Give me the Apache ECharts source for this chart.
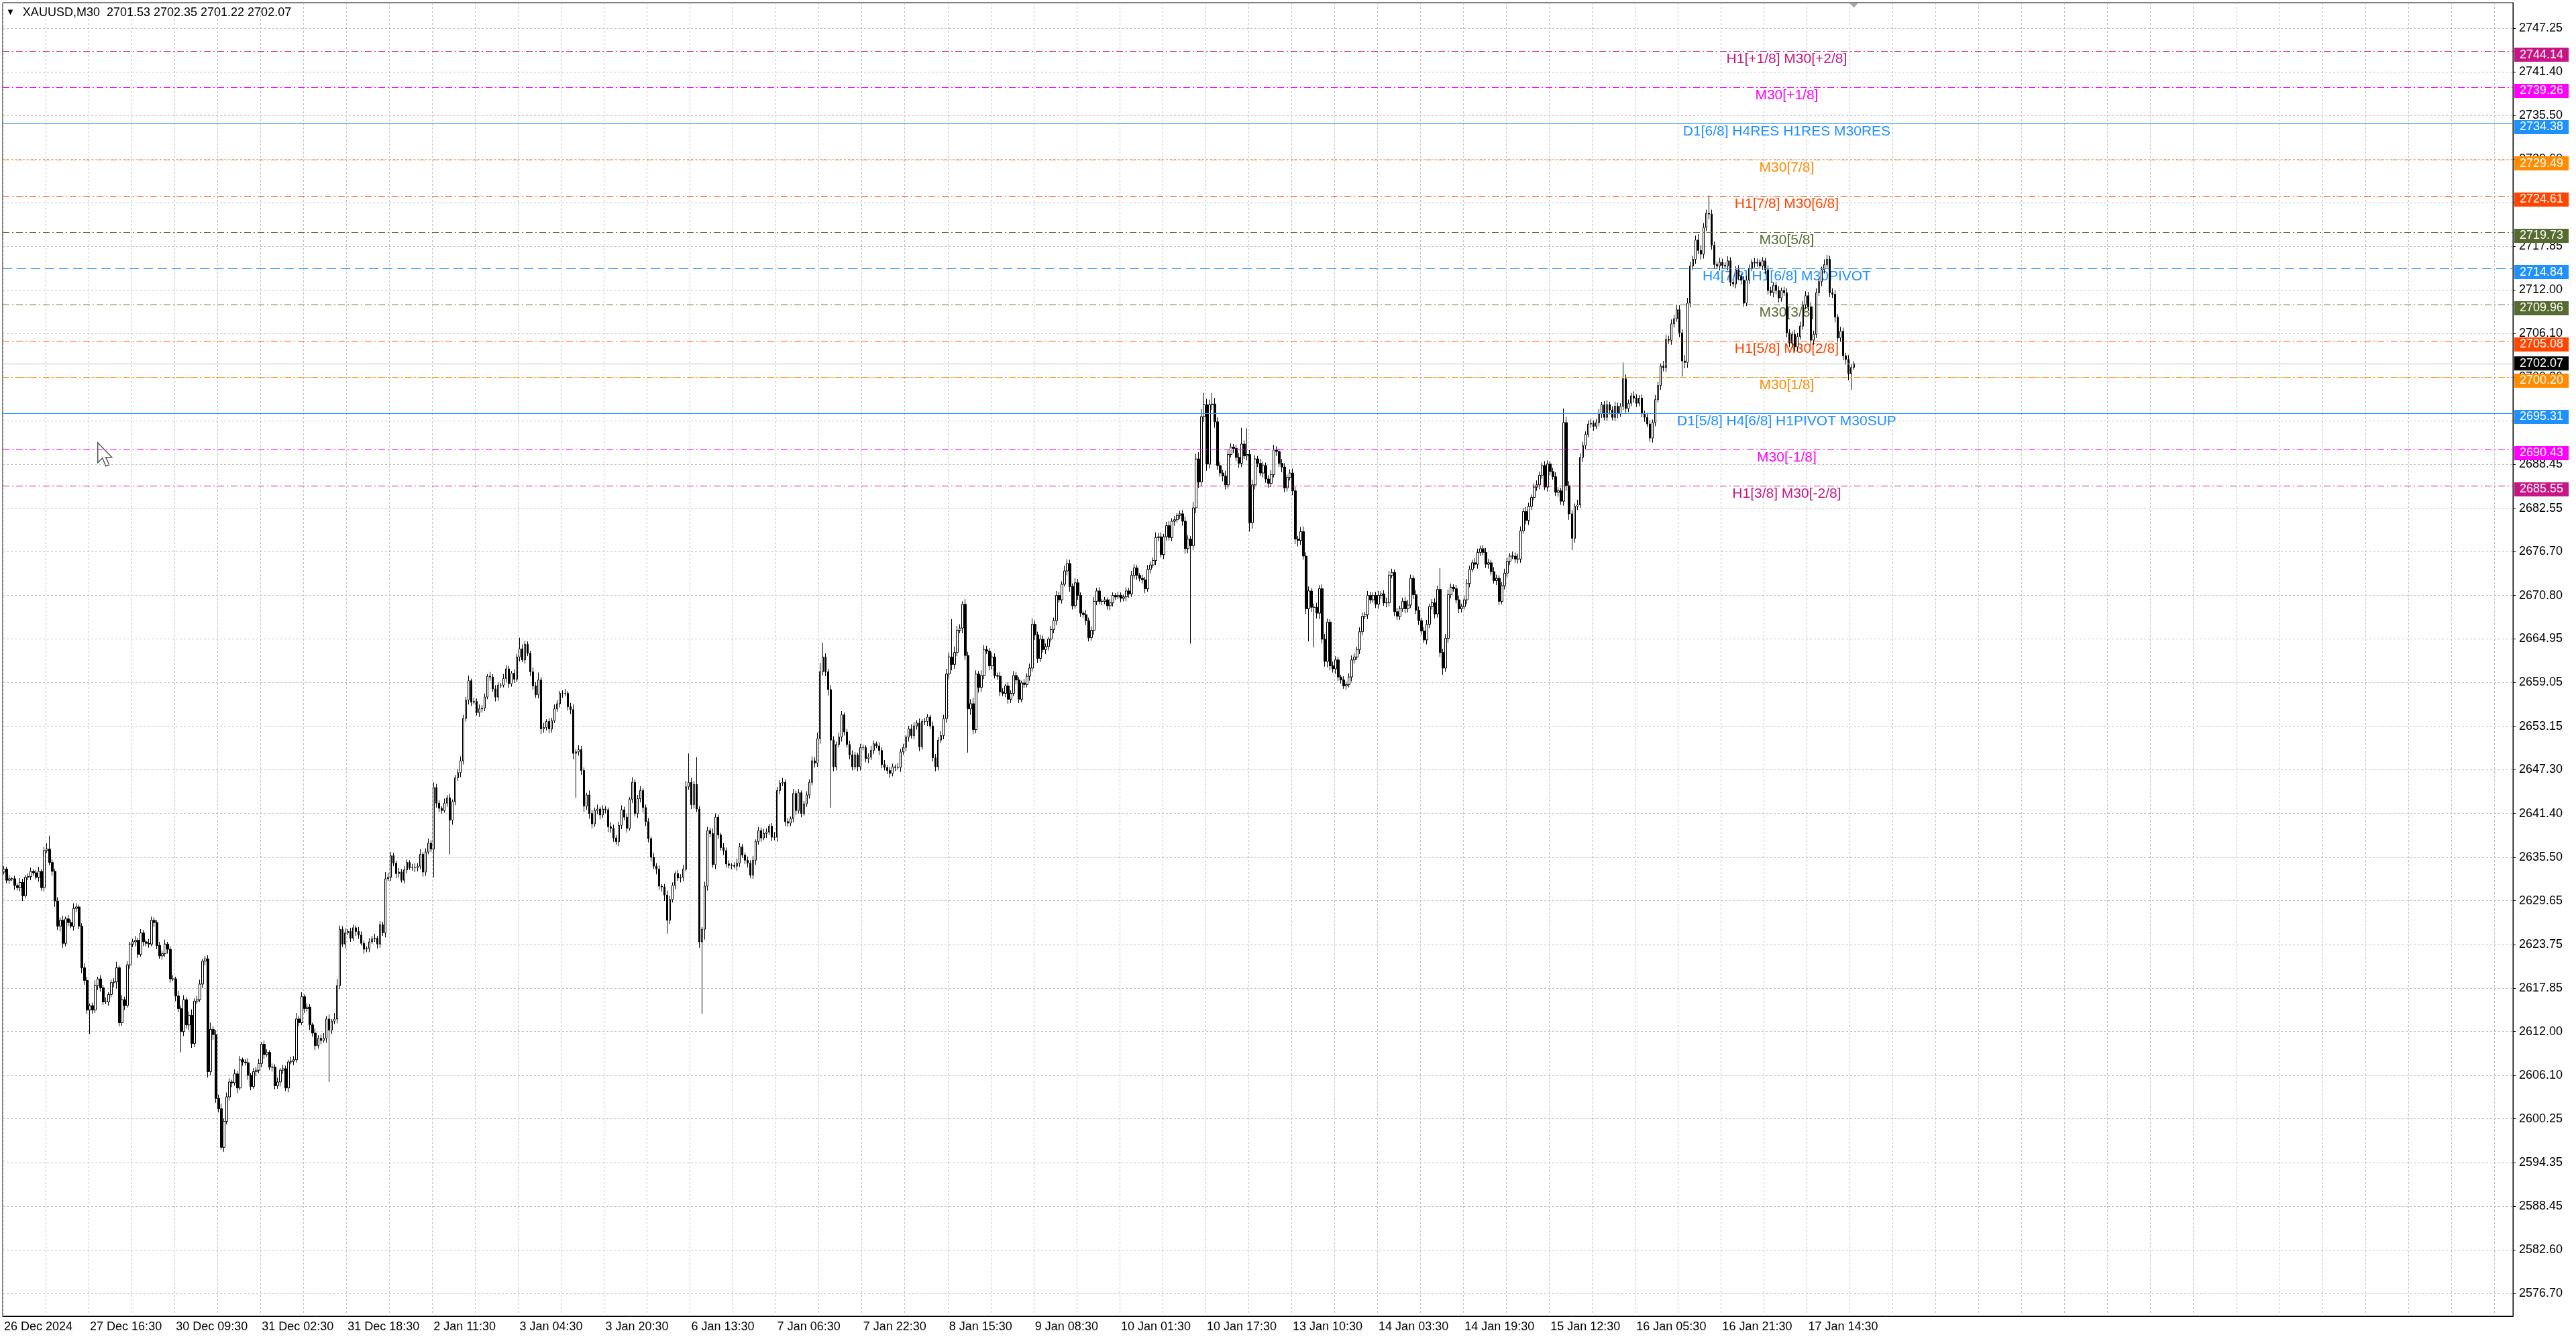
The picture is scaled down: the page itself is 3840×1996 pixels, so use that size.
<!DOCTYPE html>
<html><head><meta charset="utf-8">
<script src="https://cdn.jsdelivr.net/npm/echarts@6/dist/echarts.min.js"></script>
<style>html,body{margin:0;padding:0;background:#fff}#c{width:3840px;height:1996px}</style>
</head><body><div id="c"></div>
<script>
const firstOpen = 2633.5;
const closes = [
2633.9,
2632.4,2632.6,2632.6,2631.7,2631.4,2632.1,2630.3,2632.8,2632.9,2633.6,
2633.4,2632.8,2633.6,2631.4,2636.4,2636.6,2634.8,2633.6,2629.6,2626.2,
2627.0,2623.9,2627.2,2626.7,2626.2,2628.6,2628.8,2626.2,2620.6,2618.9,
2614.9,2615.5,2614.9,2618.2,2619.1,2617.9,2616.0,2616.0,2617.0,2618.6,
2618.7,2620.6,2613.2,2616.3,2615.5,2621.0,2623.8,2624.1,2624.3,2622.4,
2625.3,2624.1,2623.9,2623.8,2627.0,2626.7,2623.6,2622.2,2622.5,2623.8,
2623.1,2619.1,2619.1,2616.8,2615.1,2612.0,2616.3,2612.9,2614.2,2610.4,
2616.1,2616.3,2618.4,2621.5,2621.8,2606.6,2612.3,2611.6,2603.0,2601.6,
2596.4,2599.9,2603.2,2605.2,2605.1,2606.3,2604.4,2608.2,2607.9,2607.8,
2606.1,2604.6,2606.6,2606.8,2607.7,2610.3,2608.9,2609.2,2607.2,2607.2,
2604.7,2605.2,2606.8,2607.0,2604.4,2607.9,2608.0,2608.2,2613.7,2613.2,
2616.7,2615.1,2615.3,2612.9,2611.8,2610.1,2611.1,2610.8,2611.1,2613.7,
2612.2,2613.4,2613.7,2618.2,2625.8,2623.8,2625.3,2625.5,2624.6,2626.0,
2625.5,2625.0,2623.9,2623.1,2623.2,2624.1,2624.5,2624.6,2623.8,2626.4,
2625.3,2632.6,2632.8,2635.7,2634.7,2633.3,2633.5,2632.4,2633.8,2634.8,
2634.1,2634.1,2634.1,2634.3,2635.9,2633.5,2636.2,2637.4,2636.6,2644.9,
2642.8,2642.1,2641.8,2642.8,2643.5,2640.5,2643.0,2646.2,2646.9,2648.5,
2654.2,2656.7,2659.3,2656.4,2656.5,2655.0,2655.5,2655.6,2657.1,2659.9,
2659.8,2658.2,2657.1,2658.7,2658.7,2659.6,2660.9,2658.9,2660.3,2659.5,
2662.5,2663.6,2662.1,2664.2,2663.0,2660.5,2658.6,2657.4,2659.4,2652.8,
2653.0,2653.8,2652.8,2653.9,2655.5,2656.2,2657.6,2657.6,2657.6,2655.8,
2655.4,2649.5,2649.7,2650.0,2647.2,2642.4,2643.9,2641.4,2640.0,2641.8,
2642.0,2641.2,2642.0,2641.9,2639.6,2639.4,2638.1,2637.6,2639.8,2641.9,
2640.9,2639.4,2643.3,2645.6,2641.4,2643.4,2644.5,2642.2,2640.3,2638.0,
2635.5,2634.3,2633.9,2631.6,2631.5,2630.4,2627.0,2629.8,2631.7,2633.3,
2632.7,2632.8,2633.9,2645.0,2645.6,2642.6,2645.3,2642.0,2624.1,2625.8,
2631.6,2639.1,2638.7,2634.5,2640.9,2638.5,2636.8,2636.4,2634.6,2634.4,
2634.4,2634.3,2634.7,2636.9,2635.8,2635.1,2634.7,2633.1,2635.1,2637.6,
2639.1,2638.1,2638.7,2638.9,2639.7,2638.2,2638.2,2644.5,2645.5,2645.6,
2640.3,2640.1,2640.7,2644.1,2641.8,2644.2,2641.4,2642.7,2643.9,2645.6,
2648.5,2648.2,2651.5,2660.5,2662.5,2660.5,2658.1,2651.3,2647.7,2650.7,
2651.7,2654.7,2652.4,2650.7,2649.3,2647.7,2649.3,2647.7,2650.3,2650.3,
2648.8,2649.0,2649.9,2650.8,2650.5,2649.9,2648.0,2647.6,2647.2,2646.8,
2647.7,2647.6,2647.6,2649.7,2650.3,2651.7,2652.8,2651.9,2653.2,2653.6,
2650.4,2653.8,2653.8,2654.4,2653.2,2648.9,2647.7,2651.3,2651.9,2654.2,
2660.2,2662.5,2661.5,2663.1,2666.1,2666.4,2669.6,2662.7,2655.5,2656.2,
2652.7,2660.2,2658.4,2660.0,2663.5,2663.3,2661.3,2662.5,2660.0,2659.9,
2657.8,2657.6,2658.6,2656.8,2657.6,2660.0,2659.4,2656.8,2659.0,2658.8,
2659.9,2661.0,2666.9,2665.5,2662.3,2664.9,2663.5,2663.9,2664.9,2666.2,
2667.4,2670.8,2670.2,2672.3,2674.1,2675.1,2672.0,2669.4,2672.5,2670.8,
2668.4,2668.2,2667.4,2665.1,2666.1,2670.0,2671.4,2670.0,2670.0,2670.2,
2669.4,2669.8,2670.8,2670.6,2670.8,2670.4,2670.6,2671.4,2671.0,2673.5,
2674.5,2673.5,2673.1,2672.9,2671.7,2674.3,2674.9,2675.5,2678.6,2678.7,
2676.3,2678.7,2680.2,2678.6,2680.8,2681.0,2681.6,2681.8,2680.8,2677.1,
2678.4,2677.5,2682.6,2689.2,2686.1,2694.9,2696.5,2688.5,2696.5,2696.6,
2694.2,2688.3,2687.3,2686.9,2685.7,2689.8,2690.8,2690.6,2689.4,2688.6,
2691.2,2689.6,2689.8,2680.6,2685.7,2689.2,2688.6,2687.3,2688.3,2686.5,
2685.9,2687.1,2690.4,2690.2,2688.6,2688.1,2685.3,2686.7,2687.3,2684.9,
2678.4,2678.2,2679.4,2676.1,2669.0,2671.4,2669.2,2669.2,2668.4,2671.7,
2664.9,2661.9,2667.2,2661.3,2660.9,2662.1,2659.8,2659.4,2658.6,2658.8,
2659.8,2662.1,2662.5,2663.5,2665.9,2668.0,2668.2,2670.8,2670.2,2670.8,
2669.6,2670.8,2671.0,2669.8,2669.8,2673.5,2673.9,2668.6,2668.0,2669.0,2670.0,
2669.0,2669.5,2673.1,2670.9,2668.8,2667.4,2666.0,2664.8,2666.9,
2669.3,2669.8,2668.3,2671.6,2663.1,2661.0,2665.0,2670.9,2671.9,2671.7,
2670.2,2669.0,2669.3,2670.2,2672.4,2674.3,2675.2,2675.0,2676.6,2677.1,
2676.6,2675.0,2675.2,2674.0,2672.8,2673.1,2670.0,2672.1,2673.8,2675.4,
2676.1,2676.1,2675.7,2675.7,2679.5,2682.1,2680.9,2682.8,2684.0,2685.4,
2685.7,2687.0,2688.3,2685.4,2688.5,2687.5,2686.8,2684.7,2684.9,2683.5,
2694.1,2685.6,2681.8,2678.5,2682.8,2683.0,2689.4,2691.0,2692.5,2693.9,
2694.0,2693.6,2694.1,2695.3,2696.5,2694.8,2696.5,2695.8,2694.8,2696.3,
2695.3,2696.3,2700.0,2696.0,2696.7,2697.7,2697.4,2696.7,2697.4,2695.3,
2694.8,2693.9,2692.0,2694.1,2697.2,2699.1,2701.7,2701.5,2705.3,2705.2,
2707.4,2708.1,2709.3,2706.2,2702.4,2702.2,2710.2,2715.2,2716.1,2718.7,
2717.3,2716.8,2720.4,2722.3,2722.2,2718.0,2715.4,2715.2,2715.7,2715.3,
2715.2,2715.9,2713.0,2712.8,2714.7,2713.8,2713.3,2710.2,2713.3,2714.9,
2715.7,2715.6,2715.7,2715.2,2715.9,2714.7,2711.9,2711.6,2712.6,2711.9,
2710.9,2711.9,2711.6,2706.2,2704.8,2706.0,2704.3,2705.7,2707.1,2710.0,
2711.2,2709.7,2705.2,2706.0,2711.6,2713.1,2714.7,2715.4,2716.1,2711.6,
2711.4,2708.3,2705.5,2706.4,2703.1,2702.6,2700.7,2701.53,2702.07
];
// upper / lower wick lengths, tenths of a dollar
const wickUp = [
4,3,5,2,4,3,6,5,3,4, 5,3,4,6,3,5,8,18,4,3, 5,4,6,3,5,4,7,5,3,4, 6,5,3,4,7,3,5,4,6,3,
4,5,8,3,6,4,5,3,4,6, 3,5,4,3,6,5,4,3,5,4, 6,3,4,5,3,7,4,6,3,5, 8,4,5,6,3,4,5,9,4,6,
5,7,4,6,5,3,6,4,5,3, 4,6,3,5,4,6,3,5,4,3, 5,4,6,3,5,4,3,6,5,8, 4,6,3,5,4,3,6,4,5,7,
4,6,3,8,9,5,4,6,3,5, 4,3,6,5,4,3,5,4,6,3, 5,4,9,6,5,4,3,6,4,5, 4,3,5,6,4,7,3,5,6,4,
7,5,4,3,6,4,5,3,4,5, 6,5,4,7,3,5,4,6,4,5, 3,6,4,5,4,3,6,5,4,3, 5,4,15,6,5,4,3,6,5,10,
4,6,3,5,4,6,5,3,4,6, 3,5,7,4,6,5,4,3,6,5, 4,6,3,5,4,3,6,5,4,5, 6,4,5,3,7,4,5,6,3,4,
5,3,6,4,5,3,4,6,5,4, 3,5,4,6,8,39,6,5,37,4, 3,6,5,4,7,5,4,3,6,4, 5,3,4,6,5,4,3,5,4,6,
3,5,4,6,5,3,4,7,5,4, 6,4,5,3,6,4,5,3,4,5, 4,6,5,8,12,19,5,4,6,5, 4,6,5,3,4,5,6,4,3,5,
4,3,5,6,4,3,5,4,6,3, 5,4,3,6,4,5,3,4,6,5, 4,6,3,5,4,3,6,5,4,6, 5,7,6,51,8,6,5,4,7,5,
6,8,5,4,7,6,5,4,6,5, 4,6,5,3,5,4,6,5,4,3, 5,4,6,8,5,4,6,5,4,3, 5,4,6,5,4,7,6,5,4,6,
5,4,3,6,4,5,6,4,5,3, 4,3,5,4,3,5,4,3,5,4, 6,5,4,3,5,4,6,5,4,7, 5,6,4,5,6,4,5,3,4,5,
6,5,4,8,7,9,10,16,8,7, 15,8,6,5,4,7,6,5,4,5, 6,22,5,35,6,7,5,4,6,5, 4,5,6,7,5,4,6,5,4,5,
6,5,4,6,7,5,6,4,5,6, 5,6,7,5,4,6,5,4,3,5, 4,5,6,5,4,6,5,4,6,5, 4,5,6,4,5,7,6,5,4,5,
4,5,6,7,5,4,6,5,4,5, 6,4,5,6,5,29,5,6,7,5, 4,5,6,4,5,6,5,4,6,5, 4,5,6,5,4,6,5,4,5,6,
5,4,6,5,7,6,5,6,5,4, 5,6,5,4,6,5,4,5,6,5, 4,19,8,6,5,4,7,6,5,4, 5,6,4,5,6,4,5,6,4,5,
6,5,4,22,6,5,4,6,5,4, 5,4,6,5,4,6,5,4,7,6, 5,6,5,7,6,5,8,7,6,5, 6,8,7,6,5,24,6,5,4,6,
5,4,6,5,4,5,6,4,5,6, 5,4,6,5,4,5,4,6,5,4, 5,6,4,5,6,5,4,6,5,6, 5,6,5,6,5,6,5,4,7,6,
5,6,5,4,6,5,4,6,5,3
];
const wickDn = [
3,4,5,3,6,4,5,7,3,4, 5,4,3,6,4,5,3,4,6,8, 5,7,6,4,5,3,6,5,4,7, 6,5,32,5,4,6,5,4,3,5,
4,6,9,5,4,6,3,5,4,6, 5,3,6,4,5,3,6,5,4,5, 4,6,5,3,7,5,28,6,5,7, 6,5,4,3,5,6,8,5,7,6,
5,3,6,4,5,6,4,7,3,5, 4,6,5,3,6,4,5,6,3,4, 6,5,4,6,5,4,6,3,5,4, 5,3,6,4,7,5,6,4,5,3,
6,70,5,4,6,5,4,6,3,5, 4,6,5,3,6,4,5,3,4,6, 5,4,6,3,5,4,6,5,3,4, 5,3,4,6,5,4,6,5,3,4,
38,6,5,4,3,5,46,6,5,4, 6,5,4,6,5,3,4,6,5,4, 3,5,4,6,5,4,3,5,6,4, 5,4,6,3,5,4,6,5,4,5,
7,5,4,6,5,3,4,5,6,4, 5,6,8,60,5,6,8,5,7,6, 4,5,6,4,5,7,6,5,4,6, 5,4,6,3,5,4,6,5,7,6,
5,6,4,7,5,6,8,18,5,4, 5,4,6,5,3,4,6,5,4,8, 97,14,6,5,4,6,5,4,6,5, 4,5,3,6,5,4,5,6,4,5,
6,4,5,3,6,4,5,4,6,5, 4,6,5,4,5,6,4,5,3,4, 5,4,6,5,7,5,6,8,91,6, 5,4,6,5,4,6,5,4,6,5,
4,5,6,4,5,3,6,5,4,5, 6,4,5,3,6,4,5,6,4,5, 5,6,4,5,6,4,5,6,5,4, 5,6,7,8,6,5,4,7,6,59,
8,6,5,7,6,5,4,6,5,4, 5,6,4,5,6,5,4,6,5,4, 5,4,6,5,7,6,5,4,6,5, 4,5,6,4,5,3,6,7,5,4,
6,5,4,6,5,4,6,5,4,5, 4,5,6,5,4,3,5,4,6,5, 4,5,6,4,5,6,4,5,4,6, 5,4,6,5,4,5,6,4,5,6,
7,6,132,6,7,8,6,7,9,6, 7,8,6,5,7,6,5,4,6,5, 6,5,4,6,12,8,6,5,4,6, 5,6,5,4,6,5,7,6,5,4,
6,7,8,6,5,7,44,6,54,7, 8,6,7,8,6,5,7,6,5,4, 5,4,6,5,4,6,5,4,6,5, 4,5,6,5,4,6,5,4,6,5,
5,4,6,5,4,6,5,6,5,4, 6,5,4,6,5,6,9,5,6,5, 4,5,6,5,4,6,5,4,5,6, 5,4,5,6,5,4,6,5,4,5,
6,5,4,5,6,5,4,5,6,5, 4,5,6,5,4,6,5,4,5,6, 5,6,7,8,16,6,5,4,6,5, 4,5,6,4,5,6,4,5,6,4,
5,6,4,5,6,5,4,6,5,4, 5,6,4,5,6,5,4,6,5,6, 5,6,5,4,6,21,8,7,6,5, 6,5,7,6,5,7,6,5,4,6,
5,4,6,5,4,6,5,6,5,4, 5,4,6,5,4,5,6,5,4,6, 5,6,5,4,6,5,7,6,5,4, 5,6,5,7,6,5,4,6,5,4,
6,5,7,6,5,6,7,9,22,3
];
const yTickLabels = ['2747.25','2741.40','2735.50','2729.60','2723.70','2717.85','2712.00','2706.10','2700.20','2694.35','2688.45','2682.55','2676.70','2670.80','2664.95','2659.05','2653.15','2647.30','2641.40','2635.50','2629.65','2623.75','2617.85','2612.00','2606.10','2600.25','2594.35','2588.45','2582.60','2576.70'];
const xLabels = ['26 Dec 2024','27 Dec 16:30','30 Dec 09:30','31 Dec 02:30','31 Dec 18:30','2 Jan 11:30','3 Jan 04:30','3 Jan 20:30','6 Jan 13:30','7 Jan 06:30','7 Jan 22:30','8 Jan 15:30','9 Jan 08:30','10 Jan 01:30','10 Jan 17:30','13 Jan 10:30','14 Jan 03:30','14 Jan 19:30','15 Jan 12:30','16 Jan 05:30','16 Jan 21:30','17 Jan 14:30'];
const barsPerLabel = 32;
const slotCount = 935;
const levelPrices = [2744.14,2739.26,2734.38,2729.49,2724.61,2719.73,2714.84,2709.96,2705.08,2700.20,2695.31,2690.43,2685.55];
const levelNames = ['H1[+1/8] M30[+2/8]','M30[+1/8]','D1[6/8] H4RES H1RES M30RES','M30[7/8]','H1[7/8] M30[6/8]','M30[5/8]','H4[7/8] H1[6/8] M30PIVOT','M30[3/8]','H1[5/8] M30[2/8]','M30[1/8]','D1[5/8] H4[6/8] H1PIVOT M30SUP','M30[-1/8]','H1[3/8] M30[-2/8]'];
const levelColors = ['#C71585','#FF00FF','#1E90FF','#FF8C00','#FF4500','#556B2F','#1E90FF','#556B2F','#FF4500','#FF8C00','#1E90FF','#FF00FF','#C71585'];
const levelStyles = ['dashdot','dashdot','solid','dashdot','dashdot','dashdot','dash','dashdot','dashdot','dashdot','solid','dashdot','dashdot'];
const lastPrice = 2702.07;
const titleText = 'XAUUSD,M30  2701.53 2702.35 2701.22 2702.07';

const FONT = "'Liberation Sans', Arial, sans-serif";
const dashMap = { solid: 'solid', dash: [14, 7], dashdot: [10, 4, 2, 4] };
const yMin = 2573.6322, yMax = 2750.7022;
const textSlot = 664;

const categories = Array.from({ length: slotCount }, (_, i) => String(i));
const candleData = closes.map((c, i) => {
  const o = i === 0 ? firstOpen : closes[i - 1];
  const hi = Math.max(o, c) + wickUp[i] / 10;
  const lo = Math.min(o, c) - wickDn[i] / 10;
  return [o, c, +lo.toFixed(2), +hi.toFixed(2)];
});
const tickValues = yTickLabels.map(Number);

const levelLines = levelPrices.map((p, i) => ({
  yAxis: p,
  lineStyle: { color: levelColors[i], type: dashMap[levelStyles[i]], width: 1 }
}));
levelLines.push({ yAxis: lastPrice, lineStyle: { color: '#c0c0c0', type: 'solid', width: 1 } });

const tagLabel = {
  show: true, position: 'right', distance: 4,
  color: '#ffffff', fontFamily: FONT, fontSize: 18,
  padding: [2, 8, 1, 8]
};
const tagData = levelPrices.map((p, i) => ({
  value: [slotCount - 1, p],
  label: { backgroundColor: levelColors[i], offset: [0, 5], formatter: p.toFixed(2) }
}));
tagData.push({
  value: [slotCount - 1, lastPrice],
  label: { backgroundColor: '#000000', offset: [0, 0], formatter: lastPrice.toFixed(2) }
});

const chart = echarts.init(document.getElementById('c'));
chart.setOption({
  animation: false,
  backgroundColor: '#ffffff',
  title: {
    text: '{t|▼}' + titleText,
    left: 9, top: 10, padding: 0,
    textStyle: {
      fontFamily: FONT, fontSize: 18, fontWeight: 'normal', color: '#000',
      rich: { t: { fontSize: 13, color: '#000', padding: [0, 12, 2, 0] } }
    }
  },
  grid: { left: 4, right: 94, top: 4, bottom: 34, show: true, borderColor: '#000', borderWidth: 1, backgroundColor: 'transparent' },
  xAxis: {
    type: 'category',
    data: categories,
    boundaryGap: true,
    axisLine: { lineStyle: { color: '#000', width: 1 } },
    axisTick: { alignWithLabel: true, length: 4, lineStyle: { color: '#000' },
      interval: (i) => i % barsPerLabel === 0 && i / barsPerLabel < xLabels.length },
    axisLabel: {
      interval: (i) => i % barsPerLabel === 0 && i / barsPerLabel < xLabels.length,
      align: 'left', margin: 7, fontFamily: FONT, fontSize: 18, color: '#000',
      formatter: (v, i) => xLabels[i / barsPerLabel] || ''
    },
    splitLine: { show: true, interval: barsPerLabel / 2 - 1, lineStyle: { color: '#c0c0c0', type: [3, 3], width: 1 } }
  },
  yAxis: {
    type: 'value',
    position: 'right',
    min: yMin, max: yMax,
    scale: true,
    axisLine: { show: true, lineStyle: { color: '#000', width: 1 } },
    axisTick: { show: true, length: 4, customValues: tickValues, lineStyle: { color: '#000' } },
    axisLabel: { customValues: tickValues, margin: 9, fontFamily: FONT, fontSize: 18, color: '#000',
      formatter: (v) => Number(v).toFixed(2) },
    splitLine: { show: true, lineStyle: { color: '#c0c0c0', type: [3, 3], width: 1 } }
  },
  series: [
    {
      type: 'scatter',
      z: 1,
      silent: true,
      symbolSize: 0,
      itemStyle: { opacity: 1 },
      data: levelPrices.map((p, i) => ({
        value: [textSlot, p],
        label: { color: levelColors[i] }
      })),
      label: {
        show: true, position: 'inside', offset: [0, 12],
        fontFamily: FONT, fontSize: 21,
        formatter: (p) => levelNames[p.dataIndex]
      },
      markLine: {
        silent: true,
        symbol: ['none', 'none'],
        animation: false,
        label: { show: false },
        data: levelLines
      }
    },
    {
      type: 'candlestick',
      z: 3,
      large: false,
      clip: false,
      barWidth: 3,
      data: candleData,
      itemStyle: { color: '#ffffff', color0: '#000000', borderColor: '#000000', borderColor0: '#000000', borderWidth: 1 },
      markPoint: {
        silent: true,
        symbol: 'triangle', symbolRotate: 180, symbolSize: [13, 7], symbolOffset: [0, 4],
        itemStyle: { color: '#a8a8a8' },
        label: { show: false },
        data: [{ coord: [closes.length - 1, yMax] }]
      }
    },
    {
      type: 'scatter',
      z: 5,
      silent: true,
      clip: false,
      symbolSize: 0,
      itemStyle: { opacity: 1 },
      label: tagLabel,
      data: tagData
    }
  ],
  graphic: [{
    type: 'polygon', left: 145, top: 659, silent: true,
    shape: { points: [[0,0],[0,30],[7,23],[12,35],[17,33],[12,22],[21,22]] },
    style: { fill: '#ffffff', stroke: '#555', lineWidth: 1.5 }
  }]
});
</script>
</body></html>
